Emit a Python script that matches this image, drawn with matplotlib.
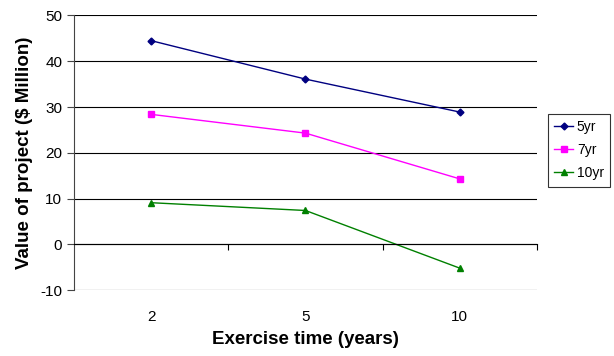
import matplotlib
matplotlib.use('Agg')
import matplotlib.pyplot as plt

# Chart data
categories = ['2', '5', '10']
series_names = ['5yr', '7yr', '10yr']
values_5yr = [44.5, 36.1, 28.9]
values_7yr = [28.4, 24.3, 14.3]
values_10yr = [9.1, 7.4, -5.2]
y_ticks = [-10, 0, 10, 20, 30, 40, 50]

plt.rcParams['font.family'] = ['Liberation Sans', 'DejaVu Sans']
plt.rcParams['axes.unicode_minus'] = False

fig = plt.figure(figsize=(6.14, 3.56), dpi=100)
ax = fig.add_axes([0.1205, 0.185, 0.7541, 0.7715])

x = list(range(len(categories)))
styles = [('#000080', 'D', 3.5), ('#FF00FF', 's', 4.5), ('#008000', '^', 5)]
for name, vals, (color, marker, ms) in zip(series_names, [values_5yr, values_7yr, values_10yr], styles):
    ax.plot(x, vals, color=color, marker=marker, markersize=ms, linewidth=1,
            markeredgecolor=color, label=name)

ax.set_xlim(-0.5, len(categories) - 0.5)
ax.set_ylim(-10, 50)
ax.set_yticks(y_ticks)
ax.yaxis.grid(True, color='black', linewidth=0.8)
ax.set_axisbelow(True)
ax.tick_params(axis='y', labelsize=11, length=5, width=0.8, color='#444444')

for s in ['top', 'right']:
    ax.spines[s].set_visible(False)
ax.spines['left'].set_color('#444444')
ax.spines['bottom'].set_position(('data', 0))
ax.spines['bottom'].set_color('black')

# tick marks between categories on the zero line
ax.set_xticks([i + 0.5 for i in x])
ax.set_xticklabels([])
ax.tick_params(axis='x', length=4, width=0.8, direction='out')

# category labels at the bottom of the plot area
sec = ax.secondary_xaxis(0)
sec.set_xticks(x)
sec.set_xticklabels(categories)
sec.tick_params(length=0, labelsize=11, pad=14)
sec.spines['bottom'].set_visible(False)

ax.set_ylabel('Value of project ($ Million)', fontsize=13.5, fontweight='bold', labelpad=5)
sec.set_xlabel('Exercise time (years)', fontsize=13.5, fontweight='bold', labelpad=5)

leg = ax.legend(loc='center left', bbox_to_anchor=(0.892, 0.578),
                bbox_transform=fig.transFigure, fontsize=10, frameon=True,
                fancybox=False, edgecolor='black', handlelength=1.4,
                borderpad=0.45, labelspacing=0.65, handletextpad=0.25,
                borderaxespad=0)
leg.get_frame().set_linewidth(0.8)

plt.savefig('out.png', dpi=100)
plt.close()
